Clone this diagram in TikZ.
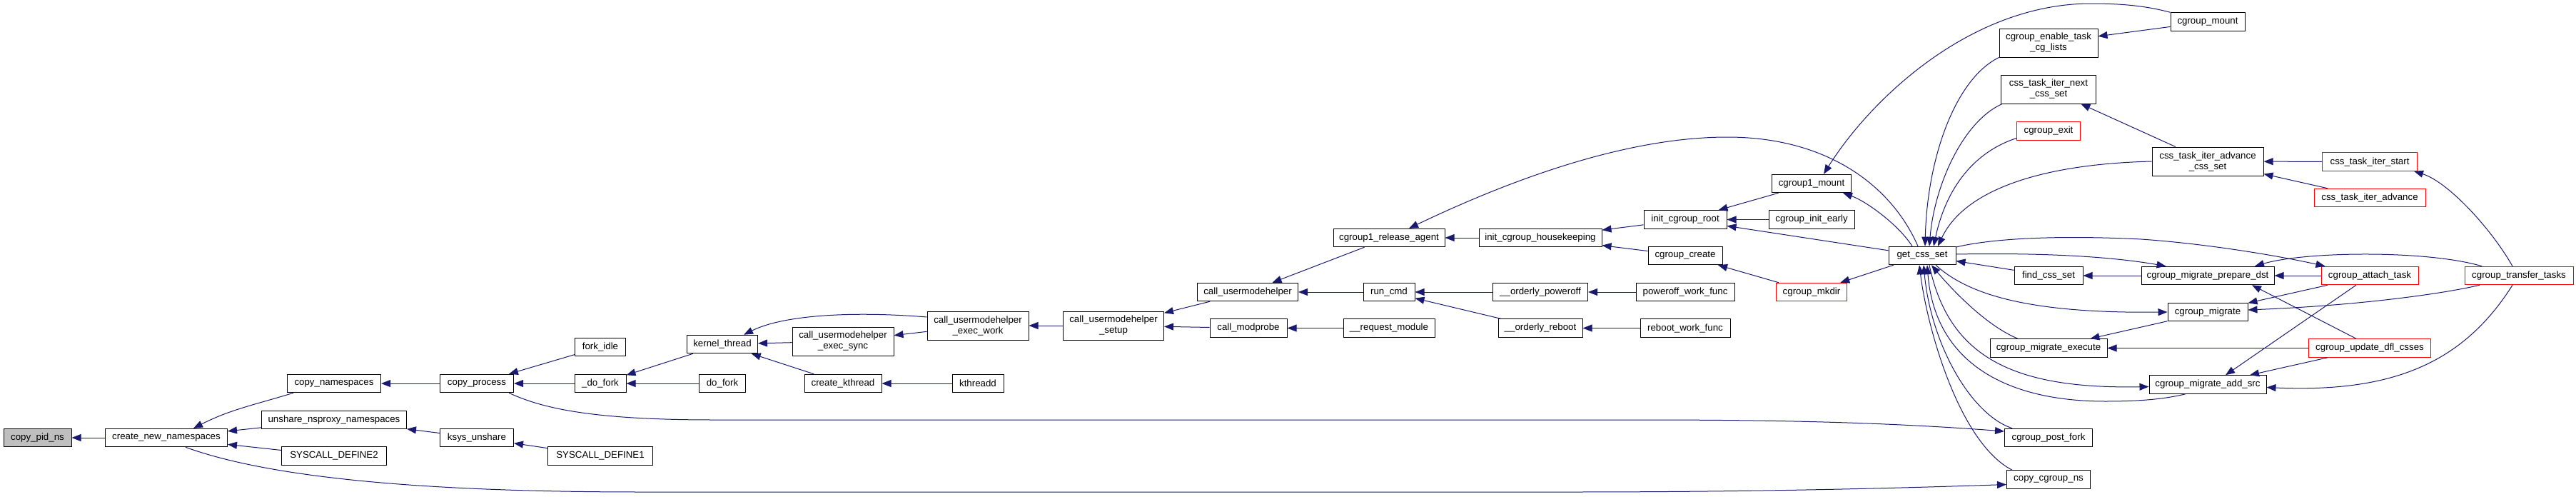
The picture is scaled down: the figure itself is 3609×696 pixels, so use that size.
\documentclass[tikz,border=0pt]{standalone}
\usepackage{fontspec}
\setmainfont{Liberation Sans}
\usetikzlibrary{arrows.meta}
\definecolor{edgeblue}{HTML}{191970}
\definecolor{rootgray}{HTML}{BFBFBF}

\begin{document}
\begin{tikzpicture}[x=1pt,y=1pt,
	fn/.style={draw=black, line width=1pt, rectangle, inner sep=0pt, minimum height=25.5pt, font=\fontsize{13.3}{15}\selectfont},
	fnred/.style={fn, draw=red},
	fntwo/.style={fn, minimum height=40pt, align=center},
	call/.style={draw=edgeblue, line width=1pt, {Triangle[length=13pt,width=10pt]}-}]
		\useasboundingbox (0,0) rectangle (3609,-696);
		\node[fn, fill=rootgray, minimum width=95pt] (pid) at (52.5,-613) {copy\_pid\_ns};
		\foreach \n/\x/\y/\w/\t in {cnn/233/613/171/create\_new\_namespaces, cns/468/537/131/copy\_namespaces,
			unshare/468/588/203/unshare\_nsproxy\_namespaces, sd2/468/638.5/147/SYSCALL\_DEFINE2,
			cproc/668/537/103/copy\_process, ksys/668/613/103/ksys\_unshare, forkidle/841/486/71/fork\_idle,
			udofork/841/537/72/\_do\_fork, sd1/841/638.5/147/SYSCALL\_DEFINE1, kthr/1012/482/99/kernel\_thread,
			dofork/1012/537/65/do\_fork, ckthr/1181/537/108/create\_kthread, kthreadd/1370/537/72/kthreadd,
			umh/1748/409/141/call\_usermodehelper, modprobe/1749/459.5/108/call\_modprobe,
			relagent/1946/333/156/cgroup1\_release\_agent, runcmd/1946/409/72/run\_cmd,
			reqmod/1946/459.5/128/\_\_request\_module, hk/2158/333/172/init\_cgroup\_housekeeping,
			poweroff/2158/409/133/\_\_orderly\_poweroff, reboot/2158/459.5/118/\_\_orderly\_reboot,
			icroot/2361/307.5/116/init\_cgroup\_root, cgcreate/2361/358/104/cgroup\_create,
			powerfn/2361/409/138/poweroff\_work\_func, rebootfn/2361/459.5/126/reboot\_work\_func,
			cg1mount/2538/257/111/cgroup1\_mount, initearly/2538/307.5/120/cgroup\_init\_early,
			gcs/2693/358/94/get\_css\_set, findcs/2870/386/96/find\_css\_set,
			exec/2870/487.5/164/cgroup\_migrate\_execute, postfork/2870/613/123/cgroup\_post\_fork,
			cgns/2870/671.5/117/copy\_cgroup\_ns, mount/3093/30.5/104/cgroup\_mount,
			prepdst/3093/386/186/cgroup\_migrate\_prepare\_dst, migrate/3093/437/112/cgroup\_migrate,
			addsrc/3093/538.5/164/cgroup\_migrate\_add\_src}{
			\node[fn, minimum width=\w pt] (\n) at (\x,-\y) {\t};
		}
		\foreach \n/\x/\y/\w/\t in {mkdir/2538/409/99/cgroup\_mkdir, exit/2870/183.5/89/cgroup\_exit,
			itstart/3320/226.5/133/css\_task\_iter\_start, itadvfn/3320/277/156/css\_task\_iter\_advance,
			attach/3320/386/136/cgroup\_attach\_task, dfl/3320/487.5/171/cgroup\_update\_dfl\_csses,
			transfer/3529/386/152/cgroup\_transfer\_tasks}{
			\node[fnred, minimum width=\w pt] (\n) at (\x,-\y) {\t};
		}
		\node[fntwo, minimum width=142pt] (umhsync) at (1181,-478) {call\_usermodehelper\\\_exec\_sync};
		\node[fntwo, minimum width=142pt] (umhwork) at (1370,-456) {call\_usermodehelper\\\_exec\_work};
		\node[fntwo, minimum width=141pt] (umhsetup) at (1560,-456) {call\_usermodehelper\\\_setup};
		\node[fntwo, minimum width=138pt] (enable) at (2870,-60) {cgroup\_enable\_task\\\_cg\_lists};
		\node[fntwo, minimum width=133pt] (itnext) at (2870,-125) {css\_task\_iter\_next\\\_css\_set};
		\node[fntwo, minimum width=156pt] (itadv) at (3093,-226) {css\_task\_iter\_advance\\\_css\_set};
		% straight calls, arrow at the callee
		\foreach \a/\b in {pid/cnn, cnn/unshare, cnn/sd2, cns/cproc, unshare/ksys, ksys/sd1, cproc/forkidle,
			cproc/udofork, udofork/kthr, udofork/dofork, kthr/umhsync, kthr/ckthr, umhsync/umhwork,
			ckthr/kthreadd, umhwork/umhsetup, umhsetup/umh, umhsetup/modprobe, umh/relagent, umh/runcmd,
			modprobe/reqmod, runcmd/poweroff, runcmd/reboot, poweroff/powerfn, reboot/rebootfn,
			relagent/hk, hk/icroot, hk/cgcreate, icroot/cg1mount, icroot/initearly, icroot/gcs,
			cgcreate/mkdir, mkdir/gcs, enable/mount, itnext/itadv, itadv/itstart, itadv/itadvfn,
			gcs/findcs, findcs/prepdst, exec/migrate, exec/dfl, prepdst/attach, migrate/attach, addsrc/dfl}{
			\draw[call] (\a) -- (\b);
		}
		\draw[call] ([xshift=38pt]cnn.north) to[out=27,in=197] ([xshift=9pt]cns.south west);
		\draw[call] ([yshift=-7pt]cgns.west) .. controls (2650,-684) and (2450,-689) .. (2200,-689) -- (900,-689)
			.. controls (600,-689) and (380,-670) .. ([xshift=27pt]cnn.south);
		\draw[call] ([yshift=9pt]postfork.west) .. controls (2650,-592) and (2500,-588) .. (2300,-588) -- (1000,-588)
			.. controls (830,-588) and (760,-572) .. ([xshift=45pt]cproc.south);
		\draw[call] ([xshift=30pt]kthr.north) .. controls (1100,-440) and (1200,-436) .. ([yshift=12pt]umhwork.west);
		\draw[call] ([xshift=28pt]relagent.north) .. controls (2120,-250) and (2280,-192) .. (2420,-192)
			.. controls (2560,-192) and (2650,-260) .. ([xshift=-6pt]gcs.north);
		\draw[call] ([xshift=44pt]cg1mount.south) .. controls (2615,-282) and (2660,-315) .. ([xshift=-14pt]gcs.north);
		\draw[call] ([xshift=17pt]cg1mount.north) .. controls (2620,-140) and (2760,-5) .. (2930,-5)
			.. controls (2990,-5) and (3020,-12) .. (mount.north west);
		\draw[call] ([xshift=4pt]gcs.north) .. controls (2700,-220) and (2740,-110) .. (enable.south west);
		\draw[call] ([xshift=10pt]gcs.north) .. controls (2710,-260) and (2750,-170) .. ([xshift=2pt]itnext.south west);
		\draw[call] ([xshift=16pt]gcs.north) .. controls (2725,-270) and (2760,-215) .. ([yshift=-10pt]exit.west);
		\draw[call] ([xshift=22pt]gcs.north) .. controls (2750,-270) and (2850,-230) .. (itadv.west);
		\draw[call] ([xshift=6pt]attach.north west) .. controls (3200,-360) and (3100,-342) .. (3000,-335)
			.. controls (2900,-330) and (2800,-332) .. ([yshift=12pt]gcs.east);
		\draw[call] ([xshift=35pt]prepdst.north west) .. controls (2950,-358) and (2850,-354) .. ([yshift=2pt]gcs.east);
		\draw[call] (migrate.west) .. controls (2850,-439) and (2760,-415) .. ([xshift=19pt]gcs.south);
		\draw[call] ([xshift=13pt]gcs.south) .. controls (2730,-400) and (2780,-455) .. ([xshift=-43pt]exec.north);
		\draw[call] ([yshift=-3pt]addsrc.west) .. controls (2820,-545) and (2730,-500) .. ([xshift=10pt]gcs.south);
		\draw[call] ([xshift=7pt]gcs.south) .. controls (2710,-500) and (2800,-562) .. (2950,-562)
			.. controls (3010,-562) and (3040,-557) .. ([xshift=-31pt]addsrc.south);
		\draw[call] ([xshift=2pt]gcs.south) .. controls (2705,-480) and (2760,-580) .. ([xshift=-51pt]postfork.north);
		\draw[call] ([xshift=-4pt]gcs.south) .. controls (2700,-460) and (2745,-620) .. ([xshift=-51pt]cgns.north);
		\draw[call] ([xshift=66pt]prepdst.north) .. controls (3230,-352) and (3400,-350) .. ([xshift=-52pt]transfer.north);
		\draw[call] ([xshift=62pt]prepdst.south) -- ([xshift=-19pt]dfl.north);
		\draw[call] ([yshift=3pt]migrate.east) .. controls (3300,-428) and (3420,-412) .. ([xshift=-55pt]transfer.south);
		\draw[call] ([xshift=25pt]addsrc.north) -- ([xshift=-19pt]attach.south);
		\draw[call] ([yshift=-4pt]addsrc.east) .. controls (3350,-550) and (3450,-510) .. ([xshift=-9pt]transfer.south);
		\draw[call] ([xshift=62pt]itstart.south) .. controls (3430,-255) and (3490,-320) .. ([xshift=-9pt]transfer.north);
	\end{tikzpicture}
\end{document}
